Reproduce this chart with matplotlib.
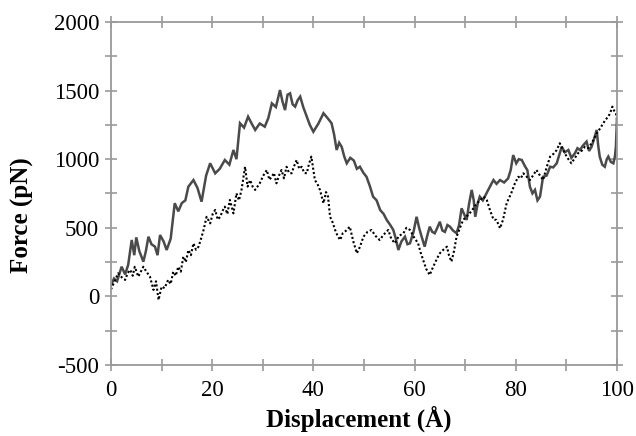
import matplotlib
matplotlib.use("Agg")
import matplotlib.pyplot as plt
from matplotlib.ticker import MultipleLocator

# solid curve (gray)
solid_x = [0, 0.6, 1.2, 2.1, 2.8, 3.4, 4.1, 4.6, 5.0, 5.6, 6.4, 6.9, 7.4, 8.0, 8.7, 9.2,
           9.7, 10.4, 11.0, 11.8, 12.6, 13.3, 14.0, 14.7, 15.3, 16.3, 17.1, 17.9, 18.8,
           19.6, 20.6, 21.5, 22.5, 23.4, 24.2, 24.8, 25.5, 26.3, 27.1, 27.8, 28.5, 29.4,
           30.4, 31.1, 31.8, 32.6, 33.4, 33.9, 34.4, 34.9, 35.4, 35.9, 36.4, 36.9, 37.4,
           38.0, 38.7, 39.3, 40.0, 41.0, 42.0, 42.8, 43.6, 44.1, 44.6, 45.1, 45.6, 46.1,
           46.6, 47.3, 48.0, 48.6, 49.2, 49.9, 50.5, 51.2, 51.8, 52.5, 53.2, 53.9, 54.5,
           55.2, 55.8, 56.3, 56.8, 57.4, 58.1, 58.6, 59.1, 59.8, 60.4, 60.9, 61.4, 62.0,
           62.5, 63.0, 63.5, 64.0, 64.5, 65.0, 65.5, 66.0, 66.5, 67.0, 67.6, 68.3, 68.8,
           69.3, 69.8, 70.3, 70.8, 71.3, 71.7, 72.0, 72.5, 72.9, 73.5, 74.2, 74.9, 75.6,
           76.2, 76.9, 77.7, 78.5, 79.0, 79.5, 80.1, 80.6, 81.2, 81.8, 82.3, 82.8, 83.3,
           83.8, 84.3, 84.8, 85.4, 86.1, 86.8, 87.4, 88.1, 88.6, 89.1, 89.7, 90.4, 91.0,
           91.7, 92.2, 92.7, 93.3, 94.0, 94.5, 95.0, 95.5, 96.0, 96.3, 96.6, 97.1, 97.6,
           98.0, 98.3, 98.8, 99.3, 99.6, 99.8, 100.0]
solid_y = [80, 130, 110, 216, 160, 230, 411, 300, 430, 330, 253, 330, 435, 380, 362, 300,
           447, 400, 338, 420, 679, 620, 680, 700, 800, 848, 790, 690, 880,
           970, 897, 930, 994, 960, 1067, 1000, 1262, 1230, 1310, 1260, 1213, 1260,
           1237, 1300, 1407, 1380, 1504, 1420, 1358, 1470, 1480, 1400, 1383, 1430, 1456,
           1380, 1310, 1250, 1200, 1260, 1335, 1300, 1262, 1180, 1067, 1120, 1090, 1020,
           970, 1010, 990, 930, 945, 900, 872, 800, 727, 700, 630, 600, 557,
           520, 484, 420, 338, 400, 435, 380, 387, 470, 580, 500, 435, 362,
           440, 508, 470, 460, 500, 544, 480, 470, 520, 508, 480, 460, 520,
           642, 600, 557, 680, 776, 700, 580, 680, 727, 700, 750, 800, 848,
           820, 848, 830, 860, 920, 1030, 970, 1000, 994, 950, 920, 800, 751,
           776, 700, 727, 872, 880, 945, 940, 970, 1030, 1091, 1050, 1067, 1010,
           1043, 1080, 1067, 1100, 1128, 1060, 1091, 1150, 1213, 1100, 1019, 960, 945,
           1000, 1019, 980, 970, 1020, 1091, 1283]

# dotted curve (black)
dot_x = [0, 0.7, 1.4, 2.1, 2.8, 3.3, 3.8, 4.3, 4.7, 5.4, 5.9, 6.4, 7.0, 7.7, 8.1, 8.4,
         8.9, 9.4, 10.0, 10.6, 11.3, 11.8, 12.3, 12.8, 13.3, 13.8, 14.3, 14.8, 15.3,
         15.8, 16.3, 16.8, 17.3, 17.8, 18.3, 18.9, 19.6, 20.1, 20.6, 21.1, 21.6, 22.0,
         22.5, 23.0, 23.5, 24.2, 24.8, 25.3, 25.8, 26.5, 27.0, 27.5, 28.0, 28.5, 29.4,
         30.1, 30.8, 31.3, 31.8, 32.2, 32.7, 33.2, 33.7, 34.2, 34.7, 35.2, 35.7, 36.2,
         36.7, 37.2, 37.7, 38.2, 38.7, 39.1, 39.6, 40.3, 40.8, 41.3, 42.0, 42.5, 42.9,
         43.3, 43.8, 44.3, 44.8, 45.3, 45.8, 46.5, 47.2, 47.9, 48.6, 49.2, 49.9, 50.7,
         51.5, 52.3, 53.1, 53.9, 54.8, 55.4, 56.1, 56.9, 57.8, 58.4, 59.1, 59.9, 60.7,
         61.2, 61.7, 62.3, 63.0, 63.5, 64.0, 64.5, 65.0, 65.7, 66.4, 66.8, 67.3, 67.8,
         68.3, 69.0, 69.6, 70.2, 70.9, 71.6, 72.3, 73.0, 73.6, 74.3, 74.9, 75.6, 76.2,
         76.9, 77.5, 78.2, 79.1, 79.8, 80.5, 81.0, 81.5, 82.2, 82.8, 83.4, 84.1, 84.8,
         85.4, 86.1, 86.8, 87.5, 88.1, 88.7, 89.2, 89.7, 90.4, 91.0, 91.7, 92.3, 93.0,
         93.7, 94.3, 95.0, 95.5, 96.0, 96.6, 97.3, 97.8, 98.3, 98.7, 99.1, 99.5, 99.8,
         100.0]
dot_y = [50, 110, 168, 140, 120, 170, 193, 150, 216, 144, 180, 216, 180, 144, 90, 47,
         110, -26, 71, 60, 120, 90, 180, 150, 216, 180, 290, 250, 338,
         300, 387, 340, 362, 420, 484, 580, 532, 600, 630, 560, 580, 620,
         654, 600, 703, 605, 751, 700, 776, 945, 800, 848, 800, 776, 824,
         880, 921, 850, 872, 900, 824, 880, 921, 860, 945, 900, 897, 950,
         994, 930, 945, 900, 897, 960, 1019, 848, 820, 776, 679, 760, 727,
         580, 540, 484, 440, 411, 460, 480, 508, 400, 314, 360, 435, 470,
         484, 440, 411, 450, 484, 420, 387, 440, 460, 500, 484, 430, 387,
         320, 265, 200, 156, 200, 241, 280, 314, 340, 362, 300, 253, 330,
         435, 500, 557, 580, 605, 640, 679, 700, 727, 700, 630, 560, 557,
         496, 560, 679, 751, 820, 872, 860, 897, 870, 848, 880, 921, 880,
         848, 940, 1019, 1040, 1067, 1116, 1080, 1043, 1000, 970, 1010, 1043, 1060,
         1091, 1080, 1116, 1150, 1188, 1220, 1262, 1290, 1310, 1340, 1383, 1350, 1335,
         1290]

x_ticks = [0, 20, 40, 60, 80, 100]
y_ticks = [-500, 0, 500, 1000, 1500, 2000]

plt.rcParams['font.family'] = ['Liberation Serif', 'DejaVu Serif']
plt.rcParams['axes.unicode_minus'] = False

fig = plt.figure(figsize=(6.36, 4.36), dpi=100)
ax = fig.add_axes([0.1745, 0.163, 0.7955, 0.7865])

ax.plot(solid_x, solid_y, color='#4a4a4a', lw=1.8, solid_joinstyle='miter')
ax.plot(dot_x, dot_y, color='black', lw=1.5, linestyle=(0, (1, 1.1)))

ax.set_xlim(0, 100)
ax.set_ylim(-500, 2000)
ax.set_xticks(x_ticks)
ax.set_yticks(y_ticks)
ax.xaxis.set_minor_locator(MultipleLocator(10))
ax.yaxis.set_minor_locator(MultipleLocator(250))

gray = '#9a9a9a'
for sp in ax.spines.values():
    sp.set_color(gray)
    sp.set_linewidth(1.3)
ax.tick_params(which='both', direction='inout', length=9, width=1.2, color=gray,
               top=True, right=True, labelsize=16.5, labelcolor='black')
ax.tick_params(axis='x', pad=6)
ax.tick_params(axis='y', pad=4)

ax.set_xlabel('Displacement (Å)', fontsize=18, fontweight='bold')
ax.set_ylabel('Force (pN)', fontsize=18, fontweight='bold')
ax.xaxis.set_label_coords(0.49, -0.158)
ax.xaxis.label.set_va('center')
ax.yaxis.set_label_coords(-0.174, 0.437)
ax.yaxis.label.set_va('center')

fig.savefig('out.png', dpi=100)
